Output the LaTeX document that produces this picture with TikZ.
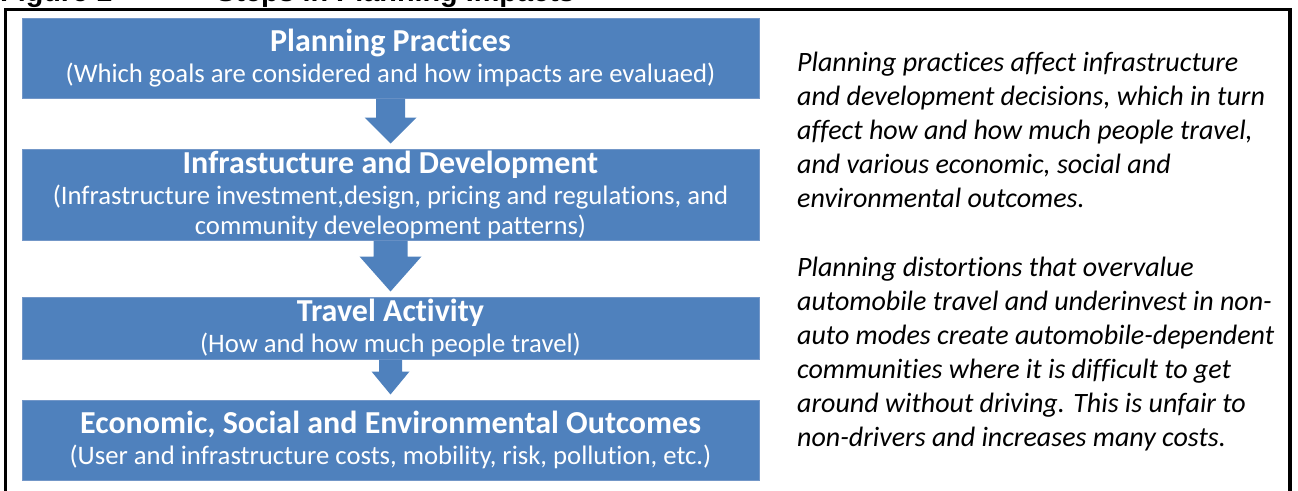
\documentclass[tikz,border=0pt]{standalone}
\usepackage{fontspec}
\setmainfont{Carlito}[Ligatures=NoCommon]
\newfontfamily\figfont{Liberation Sans}
\usetikzlibrary{calc}
\definecolor{stepblue}{HTML}{4F81BD}
\definecolor{stepedge}{HTML}{7397C8}
\tikzset{
  stepbox/.style={fill=stepblue, draw=stepedge, line width=1pt, text=white, align=center,
    minimum width=737, inner sep=0pt, font=\fontsize{26.7}{30}\selectfont},
  notetext/.style={align=left, inner sep=0pt, anchor=north west,
    font=\fontsize{28}{34}\selectfont\itshape},
}
% block arrow between two boxes: from, to, shaft half width, head half width, head length
\newcommand{\downstep}[5]{%
  \fill[stepblue] ($(#1.south)+(-#3,0)$) -- ($(#2.north)+(-#3,-#5-5)$)
    -- ($(#2.north)+(-#4,-#5-5)$) -- ($(#2.north)+(0,-5)$)
    -- ($(#2.north)+(#4,-#5-5)$) -- ($(#2.north)+(#3,-#5-5)$)
    -- ($(#1.south)+(#3,0)$) -- cycle;}
\newcommand{\boxhead}[1]{{\fontsize{32}{36}\selectfont\bfseries #1}}
\begin{document}
\begin{tikzpicture}[x=1pt,y=-1pt]
\useasboundingbox (0,0) rectangle (1298,490);
\node[anchor=base west, inner sep=0pt, font=\figfont\fontsize{28.8}{33}\selectfont\bfseries] (fig) at (0,1.5) {Figure 1};
\node[anchor=base west, inner sep=0pt, font=\figfont\fontsize{28.8}{33}\selectfont\bfseries] (cap) at (216,1.5) {Steps in Planning Impacts};
\draw[line width=3.5pt] (5.5,495) -- (5.5,9.5) -- (1290,9.5) -- (1290,495);
\node[stepbox, minimum height=80] (pp) at (390.5,58) {\boxhead{Planning Practices}\\[1pt]
  (Which goals are considered and how impacts are evaluaed)};
\node[stepbox, minimum height=91] (id) at (390.5,194.5) {\boxhead{Infrastucture and Development}\\[1pt]
  (Infrastructure investment,design, pricing and regulations, and\\
  community develeopment patterns)};
\node[stepbox, minimum height=62] (ta) at (390.5,328) {\boxhead{Travel Activity}\\[1pt]
  (How and how much people travel)};
\node[stepbox, minimum height=80] (eo) at (390.5,440) {\boxhead{Economic, Social and Environmental Outcomes}\\[1pt]
  (User and infrastructure costs, mobility, risk, pollution, etc.)};
\downstep{pp}{id}{14.5}{26}{26}
\downstep{id}{ta}{17}{31}{35}
\downstep{ta}{eo}{11.5}{19}{23}
\node[notetext] (note) at (797,52) {Planning practices affect infrastructure\\
  and development decisions, which in turn\\
  affect how and how much people travel,\\
  and various economic, social and\\
  environmental outcomes.\\[35pt]
  Planning distortions that overvalue\\
  automobile travel and underinvest in non-\\
  auto modes create automobile-dependent\\
  communities where it is difficult to get\\
  around without driving. This is unfair to\\
  non-drivers and increases many costs.};
\end{tikzpicture}
\end{document}
